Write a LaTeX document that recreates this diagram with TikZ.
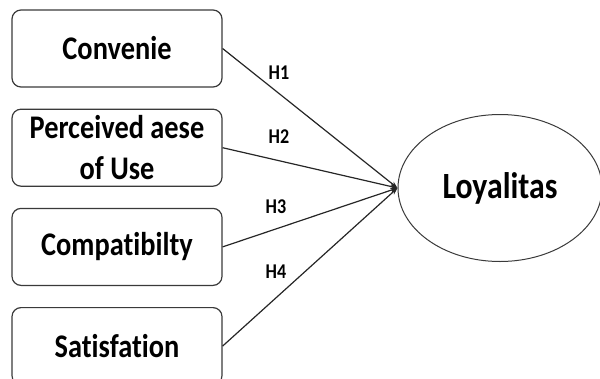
\documentclass[tikz,border=0pt]{standalone}
\usepackage{fontspec}
\setmainfont[FakeStretch=0.86,Ligatures=NoCommon]{Carlito}
\usetikzlibrary{arrows.meta,positioning,shapes.geometric}
\definecolor{boxline}{HTML}{3A3A3A}

\begin{document}
\begin{tikzpicture}[x=1pt,y=-1pt,
    >={Stealth[length=7pt,width=5pt]},
    node distance=21pt,
    var/.style={draw=boxline,line width=1.2pt,rounded corners=9pt,
      minimum width=210pt,minimum height=77pt,align=center,
      font=\fontsize{33}{41}\selectfont\bfseries,inner sep=0pt},
    dep/.style={draw=boxline,line width=1pt,ellipse,minimum width=204pt,
      minimum height=147pt,font=\fontsize{37}{42}\selectfont\bfseries},
    hyp/.style={font=\fontsize{21}{24}\selectfont\bfseries},
    path/.style={->,line width=1.2pt,draw=black!85}]
    \useasboundingbox (0,0) rectangle (600,378);
    \node[var] (conv) at (117,48.5) {Convenie};
    \node[var,below=of conv] (peou) {Perceived aese\\of Use};
    \node[var,below=of peou] (comp) {Compatibilty};
    \node[var,below=of comp] (sat) {Satisfation};
    \node[dep] (loy) at (500,188) {Loyalitas};
    \draw[path] (conv.east) -- (loy.west);
    \draw[path] (peou.east) -- (loy.west);
    \draw[path] (comp.east) -- (loy.west);
    \draw[path] (sat.east) -- (loy.west);
    \node[hyp] (h1) at (279,73) {H1};
    \node[hyp] (h2) at (279,137) {H2};
    \node[hyp] (h3) at (276,207) {H3};
    \node[hyp] (h4) at (276,272) {H4};
\end{tikzpicture}
\end{document}
